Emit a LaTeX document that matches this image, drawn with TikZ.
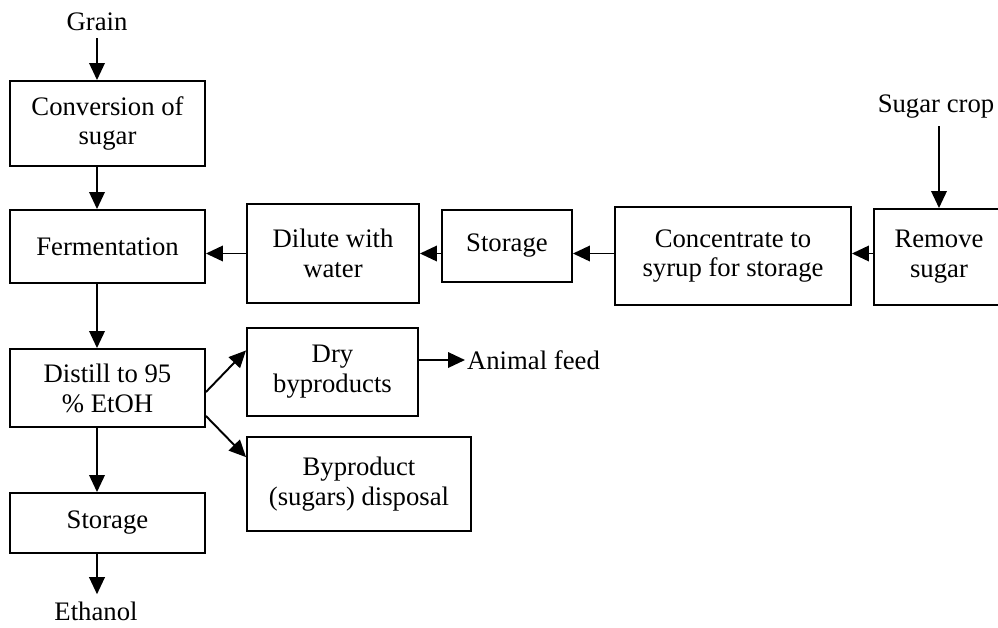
\documentclass[tikz,border=0pt]{standalone}
\usepackage{fontspec}
\setmainfont{Liberation Serif}
\usetikzlibrary{positioning,calc,arrows.meta}

\begin{document}
\begin{tikzpicture}[x=0.02cm, y=-0.02cm,
    box/.style={draw, line width=1.1pt, align=center, inner sep=2pt},
    lbl/.style={inner xsep=1pt, inner ysep=4pt},
    flow/.style={line width=1.1pt, -{Triangle[length=0.34cm, width=0.31cm]}},
    font=\fontsize{15.2}{17}\selectfont]
\useasboundingbox (0,0) rectangle (998,627);

% grain line
\node[lbl] (grain) at (97,22) {Grain};
\node[box, minimum width=3.9cm, minimum height=1.7cm] (conv) at (107.5,123.5) {Conversion of\\ sugar};
\node[box, minimum width=3.9cm, minimum height=1.46cm] (ferm) at (107.5,246.5) {Fermentation};
\node[box, minimum width=3.9cm, minimum height=1.56cm] (distill) at (107.5,388) {Distill to 95\\ \% EtOH};
\node[box, minimum width=3.9cm, minimum height=1.2cm] (stor2) at (107.5,523) {Storage};
\node[lbl] (ethanol) at (96,611) {Ethanol};

% sugar crop line
\node[lbl] (crop) at (936,107) {Sugar crop};
\node[box, minimum width=2.6cm, minimum height=1.92cm] (remove) at (939,257) {Remove\\ sugar};
\node[box, minimum width=4.72cm, minimum height=1.96cm] (conc) at (733,256) {Concentrate to\\ syrup for storage};
\node[box, minimum width=2.6cm, minimum height=1.44cm] (stor1) at (507,246) {Storage};
\node[box, minimum width=3.44cm, minimum height=1.98cm] (dilute) at (333,253.5) {Dilute with\\ water};

% byproducts
\node[box, minimum width=3.42cm, minimum height=1.76cm] (dry) at (332.5,372) {Dry\\ byproducts};
\node[box, minimum width=4.48cm, minimum height=1.88cm] (byprod) at (359,484) {Byproduct\\ (sugars) disposal};
\node[lbl, anchor=west] (feed) at (465,360) {Animal feed};

\draw[flow] (grain.south) -- (grain.south |- conv.north);
\draw[flow] (grain.south |- conv.south) -- (grain.south |- ferm.north);
\draw[flow] (grain.south |- ferm.south) -- (grain.south |- distill.north);
\draw[flow] (grain.south |- distill.south) -- (grain.south |- stor2.north);
\draw[flow] (grain.south |- stor2.south) -- (grain.south |- ethanol.north);

\draw[flow] (remove.north |- crop.south) -- (remove.north);
\draw[flow] (remove.west |- dilute.east) -- (conc.east |- dilute.east);
\draw[flow] (conc.west |- dilute.east) -- (stor1.east |- dilute.east);
\draw[flow] (stor1.west |- dilute.east) -- (dilute.east);
\draw[flow] (dilute.west) -- (dilute.west -| ferm.east);

\draw[flow] ($(distill.north east)!0.55!(distill.south east)$) -- ($(dry.north west)!0.26!(dry.south west)$);
\draw[flow] ($(distill.north east)!0.85!(distill.south east)$) -- ($(byprod.north west)!0.22!(byprod.south west)$);
\draw[flow] (dry.east |- feed.west) -- (feed.west);
\end{tikzpicture}
\end{document}
